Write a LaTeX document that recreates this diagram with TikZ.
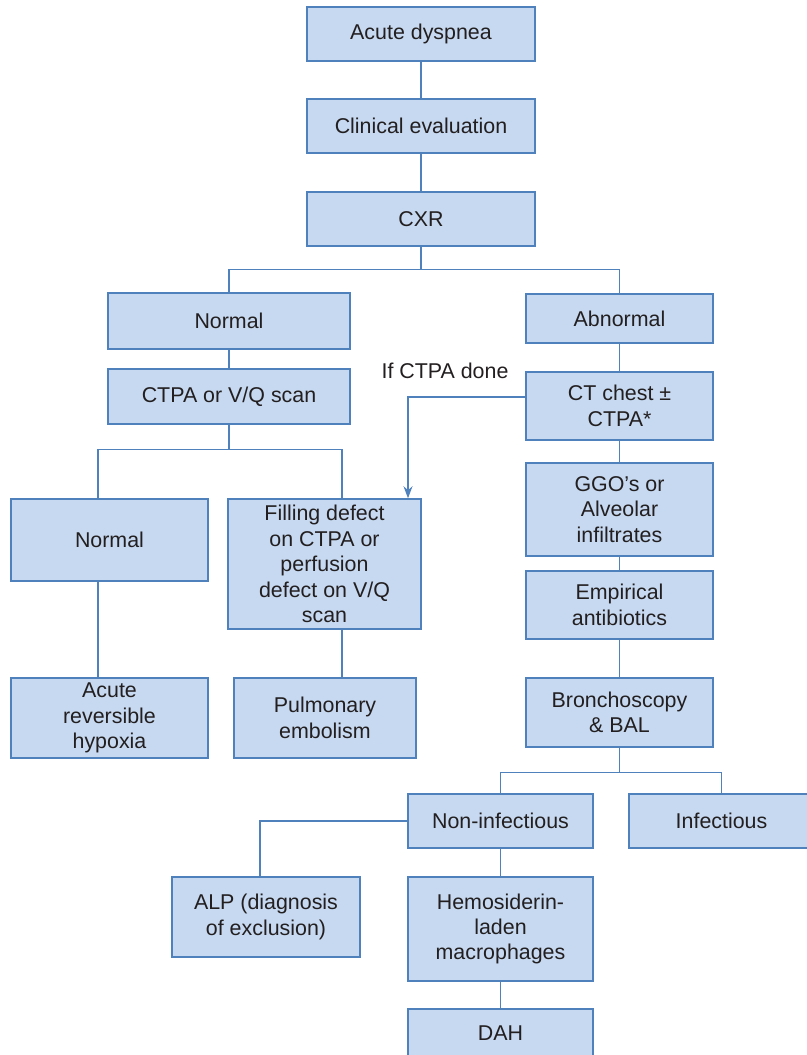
\documentclass[tikz,border=0pt]{standalone}
\usepackage{fontspec}
\setmainfont{Liberation Sans}
\usetikzlibrary{calc,arrows.meta}

\definecolor{boxfill}{RGB}{198,217,240}
\definecolor{boxline}{RGB}{79,129,189}
\definecolor{txt}{RGB}{35,31,32}
\newcommand{\fs}{\fontsize{10.7}{12.7}\selectfont}

\begin{document}
\begin{tikzpicture}[x=0.5pt, y=-0.5pt,
    box/.style={draw=boxline, fill=boxfill, line width=0.75pt, align=center,
      text=txt, font=\fs, inner sep=0pt},
    link/.style={draw=boxline, line width=0.6pt}]
  \useasboundingbox (0,0) rectangle (807,1055);

  % Top trunk
  \node[box, minimum width=114pt, minimum height=27pt] (dysp) at (421,34) {Acute dyspnea};
  \node[box, minimum width=114pt, minimum height=27pt] (clin) at (421,126) {Clinical evaluation};
  \node[box, minimum width=114pt, minimum height=27pt] (cxr) at (421,219) {CXR};

  % Left branch: normal CXR
  \node[box, minimum width=121pt, minimum height=28pt] (normA) at (229,321) {Normal};
  \node[box, minimum width=121pt, minimum height=27.5pt] (ctpa) at (229,396.5) {CTPA or V/Q scan};
  \node[box, minimum width=98.5pt, minimum height=41pt] (normB) at (109.5,540) {Normal};
  \node[box, minimum width=96.5pt, minimum height=65pt] (fill) at (324.5,564)
    {Filling defect\\on CTPA or\\perfusion\\defect on V/Q\\scan};
  \node[box, minimum width=98.5pt, minimum height=40pt] (hyp) at (109.5,718) {Acute\\reversible\\hypoxia};
  \node[box, minimum width=91pt, minimum height=40pt] (pe) at (325,718) {Pulmonary\\embolism};

  % Right branch: abnormal CXR
  \node[box, minimum width=93.5pt, minimum height=24.5pt] (abn) at (619.5,318.5) {Abnormal};
  \node[box, minimum width=93.5pt, minimum height=34pt] (ctc) at (619.5,406) {CT chest ±\\CTPA*};
  \node[box, minimum width=93.5pt, minimum height=46.5pt] (ggo) at (619.5,509.5) {GGO’s or\\Alveolar\\infiltrates};
  \node[box, minimum width=93.5pt, minimum height=34pt] (emp) at (619.5,605) {Empirical\\antibiotics};
  \node[box, minimum width=93.5pt, minimum height=34.5pt] (bron) at (619.5,712.5) {Bronchoscopy\\\& BAL};
  \node[box, minimum width=92.5pt, minimum height=27pt] (noninf) at (500.5,821) {Non-infectious};
  \node[box, minimum width=92.5pt, minimum height=27pt] (inf) at (721.5,821) {Infectious};
  \node[box, minimum width=94pt, minimum height=40pt] (alp) at (266,917) {ALP (diagnosis\\of exclusion)};
  \node[box, minimum width=92.5pt, minimum height=52pt] (hemo) at (500.5,929) {Hemosiderin-\\laden\\macrophages};
  \node[box, minimum width=92.5pt, minimum height=24pt] (dah) at (500.5,1033) {DAH};

  \node[font=\fs, text=txt] (ifctpa) at (445,371) {If CTPA done};

  % Connectors
  \draw[link] (dysp) -- (clin);
  \draw[link] (clin) -- (cxr);
  \draw[link] (cxr.south) -- ++(0,23) -| (normA.north);
  \draw[link] (cxr.south) -- ++(0,23) -| (abn.north);
  \draw[link] (normA) -- (ctpa);
  \draw[link] (ctpa.south) -- ++(0,25) -| ([xshift=-5.75pt]normB.north);
  \draw[link] (ctpa.south) -- ++(0,25) -| ([xshift=8.75pt]fill.north);
  \draw[link] ([xshift=-5.75pt]normB.south) -- ([xshift=-5.75pt]hyp.north);
  \draw[link] ([xshift=8.75pt]fill.south) -- ([xshift=8.5pt]pe.north);
  \draw[link] (abn) -- (ctc);
  \draw[link] (ctc) -- (ggo);
  \draw[link] (ggo) -- (emp);
  \draw[link] (emp) -- (bron);
  \draw[link] (bron.south) -- ++(0,25) -| (noninf.north);
  \draw[link] (bron.south) -- ++(0,25) -| (inf.north);
  \draw[link] (noninf.west) -| ([xshift=-3pt]alp.north);
  \draw[link] (noninf) -- (hemo);
  \draw[link] (hemo) -- (dah);

  % If CTPA done
  \draw[link, -{Stealth[length=6pt, width=4.5pt]}] ([yshift=4.5pt]ctc.west) -| ([xshift=41.75pt]fill.north);
\end{tikzpicture}
\end{document}
